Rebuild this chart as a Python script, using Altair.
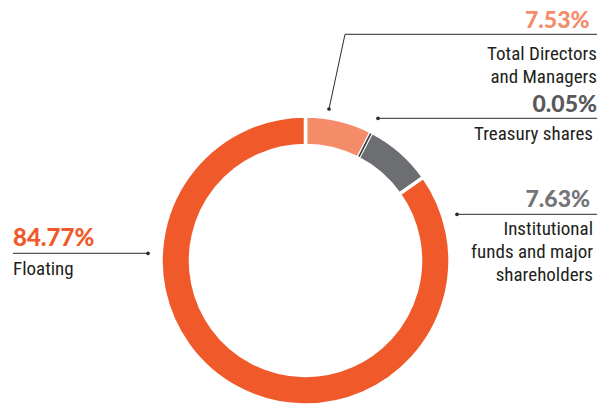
import math
import altair as alt
import pandas as pd

# ---- data ----
categories = ["Total Directors and Managers", "Treasury shares",
              "Institutional funds and major shareholders", "Floating"]
values = [7.53, 0.05, 7.63, 84.77]
pct_labels = ["7.53%", "0.05%", "7.63%", "84.77%"]
name_labels = ["Total Directors\nand Managers", "Treasury shares",
               "Institutional\nfunds and major\nshareholders", "Floating"]
seg_colors = ["#F48C6A", "#3E3E40", "#6D6E71", "#F05A2B"]
pct_colors = ["#F48C6A", "#58595B", "#747578", "#F05A2B"]

df = pd.DataFrame({
    "category": categories,
    "value": values,
    "order": list(range(len(categories))),
    "pct": pct_labels,
    "name": name_labels,
})

CX, CY = 297.5, 252.5
PCT_FONT = "Lato"
NAME_FONT = "Roboto Condensed, Roboto"
TXT = "#231F20"
LINE = "#2b2b2b"

base = (
    alt.Chart(df)
    .transform_joinaggregate(total="sum(value)")
    .transform_window(cum="sum(value)", sort=[alt.SortField("order")])
    .transform_calculate(start="(datum.cum - datum.value) / datum.total",
                         end="datum.cum / datum.total")
)

theta_scale = alt.Scale(domain=[0, 1], range=[0, 2 * math.pi])

ring = base.mark_arc(outerRadius=144.5, innerRadius=115, stroke="white",
                     strokeWidth=3.5).encode(
    theta=alt.Theta("start:Q", scale=theta_scale),
    theta2="end:Q",
    color=alt.Color("category:N", scale=alt.Scale(domain=categories, range=seg_colors),
                    legend=None),
    x=alt.value(CX), y=alt.value(CY),
)

sliver = base.transform_filter(alt.datum.category == "Treasury shares").mark_arc(
    outerRadius=142, innerRadius=117.5, fill="#3E3E40", stroke="#3E3E40",
    strokeWidth=1.3).encode(
    theta=alt.Theta("start:Q", scale=theta_scale),
    theta2="end:Q",
    x=alt.value(CX), y=alt.value(CY),
)

one = alt.Chart(pd.DataFrame({"k": [0]}))


def pct_text(cat, x, y, color, size=23, align="right"):
    return (alt.Chart(df).transform_filter(alt.datum.category == cat)
            .mark_text(align=align, baseline="alphabetic", font=PCT_FONT,
                       fontWeight=900, fontSize=size, color=color)
            .encode(text="pct:N", x=alt.value(x), y=alt.value(y)))


def name_text(cat, x, y, align="right"):
    return (alt.Chart(df).transform_filter(alt.datum.category == cat)
            .mark_text(align=align, baseline="alphabetic", font=NAME_FONT,
                       fontSize=19, lineHeight=23, lineBreak="\n", color=TXT)
            .encode(text="name:N", x=alt.value(x), y=alt.value(y)))


def seg(x1, y1, x2, y2):
    return one.mark_rule(color=LINE, strokeWidth=1).encode(
        x=alt.value(x1), y=alt.value(y1), x2=alt.value(x2), y2=alt.value(y2))


def dot(x, y):
    return one.mark_circle(size=14, color=LINE, opacity=1).encode(
        x=alt.value(x), y=alt.value(y))


layers = [
    ring, sliver,
    # Directors
    pct_text(categories[0], 581.5, 19.5, pct_colors[0]),
    seg(337, 26.3, 589, 26.3), seg(337, 26.3, 321, 101), dot(321, 101),
    name_text(categories[0], 589, 52),
    # Treasury
    pct_text(categories[1], 589, 103.7, pct_colors[1]),
    seg(370, 110.3, 589, 110.3), dot(370, 110.3),
    name_text(categories[1], 585, 132),
    # Institutional
    pct_text(categories[2], 582, 199.3, pct_colors[2]),
    seg(449, 206.3, 589, 206.3), dot(449, 206.3),
    name_text(categories[2], 585, 227),
    # Floating
    pct_text(categories[3], 5, 237.5, pct_colors[3], size=24, align="left"),
    seg(5, 245.3, 140, 245.3), dot(140, 245.3),
    name_text(categories[3], 5, 267, align="left"),
]

chart = alt.layer(*layers).properties(
    width=593, height=396, padding=0,
    autosize=alt.AutoSizeParams(type="none"),
    background="white",
).configure_view(stroke=None)

chart.save("out.html", embed_options={"renderer": "svg", "actions": False})
